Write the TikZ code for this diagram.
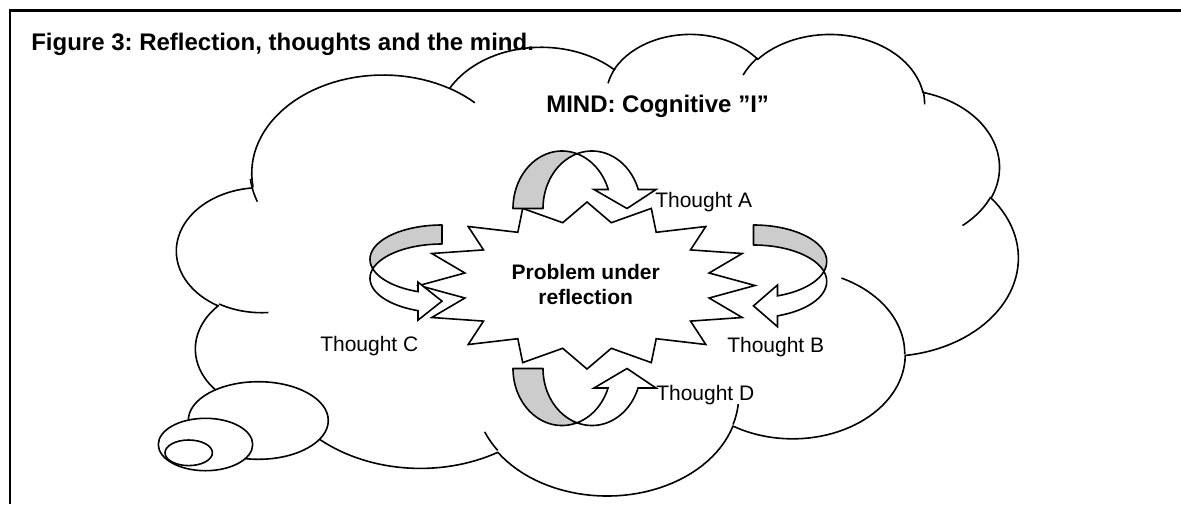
\documentclass[tikz,border=0pt]{standalone}
\usepackage{fontspec}
\setmainfont{Liberation Sans}
\frenchspacing
\definecolor{bandgray}{RGB}{204,204,204}
\begin{document}
\begin{tikzpicture}[x=0.75pt,y=-0.75pt,samples=40,
  outline/.style={draw=black,line width=1.2pt,line join=round},
  cloudfill/.style={outline,fill=white},
  tail/.style={draw=black,line width=1.2pt},
  backband/.style={draw=black,fill=bandgray,line width=1.2pt,line join=round},
  frontband/.style={draw=black,fill=white,line width=1.2pt,line join=miter},
  burst/.style={draw=black,fill=white,line width=1.2pt,line join=miter},
  frame/.style={draw=black,line width=1.9pt},
  lbl/.style={inner sep=0pt,font=\fontsize{15.75}{18.75}\selectfont},
  boldlbl/.style={inner sep=0pt,align=center,font=\bfseries\fontsize{15.75}{18.75}\selectfont},
  headlbl/.style={inner sep=0pt,font=\bfseries\fontsize{18}{21}\selectfont}]
\useasboundingbox (0,0) rectangle (1181,504);
\fill[white] (0,0) rectangle (1181,504);
% frame
\coordinate (fBL) at (10,504);
\coordinate (fTL) at (10,10.5);
\coordinate (fTR) at (1181,10.5);
\draw[frame] (fBL) -- (fTL) -- (fTR);
% cloud outline
\path[cloudfill] plot[domain=-187.746:-59.64] ({383.2+131.47*cos(\x)},{173.2+98.17*sin(\x)})
 -- plot[domain=-152.033:-45.447] ({541.3+103.82*cos(\x)},{124.9+77.63*sin(\x)})
 -- plot[domain=-153.49:-37.317] ({690.2+84.98*cos(\x)},{97.9+63.5*sin(\x)})
 -- plot[domain=-139.72:-10.211] ({829.9+94.56*cos(\x)},{104.9+70.45*sin(\x)})
 -- plot[domain=-74.768:23.212] ({895.7+103.82*cos(\x)},{167.4+77.69*sin(\x)})
 -- plot[domain=-37.515:81.862] ({886.5+131.9*cos(\x)},{258+98.49*sin(\x)})
 -- plot[domain=0.4596:121.98] ({792.6+112.62*cos(\x)},{354.8+84.04*sin(\x)})
 -- plot[domain=16.844:146.216] ({607.1+131.45*cos(\x)},{397.6+98.44*sin(\x)})
 -- plot[domain=58.986:150.18] ({420.4+150.29*cos(\x)},{355.8+112.62*sin(\x)})
 -- plot[domain=83.306:223.09] ({280.2+84.88*cos(\x)},{349+63.22*sin(\x)})
 -- plot[domain=120.35:264.112] ({260.9+84.59*cos(\x)},{251.1+63.5*sin(\x)})
 -- cycle;
% inner hooks of the cloud
\draw[tail] plot[domain=85.543:120.35] ({261.8+84.59*cos(\x)},{249.2+63.5*sin(\x)});
\draw[tail] plot[domain=68.236:83.306] ({280.4+84.88*cos(\x)},{347+63.22*sin(\x)});
\draw[tail] plot[domain=146.216:158.474] ({607+131.45*cos(\x)},{395.7+98.44*sin(\x)});
\draw[tail] plot[domain=4.738:16.844] ({607.2+131.45*cos(\x)},{396+98.44*sin(\x)});
\draw[tail] plot[domain=-64.027:0.4596] ({792.1+112.62*cos(\x)},{353.6+84.04*sin(\x)});
\draw[tail] plot[domain=23.212:49.642] ({895.3+103.82*cos(\x)},{166.3+77.69*sin(\x)});
\draw[tail] plot[domain=-10.211:0.821] ({830+94.56*cos(\x)},{103.3+70.45*sin(\x)});
\draw[tail] plot[domain=-156.29:-139.72] ({829.7+94.56*cos(\x)},{103.4+70.45*sin(\x)});
\draw[tail] plot[domain=-167.727:-153.49] ({691.1+84.98*cos(\x)},{96.8+63.5*sin(\x)});
\draw[tail] plot[domain=-59.64:-45.737] ({383.1+131.47*cos(\x)},{173.1+98.17*sin(\x)});
\draw[tail] plot[domain=160.29:173.86] ({381.1+131.47*cos(\x)},{168.5+98.17*sin(\x)});
% thought bubbles
\draw[cloudfill] (258.3,420.5) ellipse [x radius=52.5pt, y radius=29.1pt];
\draw[cloudfill] (205.5,444.5) ellipse [x radius=35.4pt, y radius=19.65pt];
\draw[cloudfill] (188.7,452.8) ellipse [x radius=17.78pt, y radius=9.6pt];
% starburst
\draw[burst] (587,202) -- (611.3,222.7) -- (651.3,208.4) -- (656.2,232.3) -- (705.8,226.5)
 -- (690.5,249.9) -- (742.2,253.5) -- (709.1,273) -- (755,285.5) -- (709.1,298)
 -- (742.2,317.5) -- (690.5,321.1) -- (705.8,344.5) -- (656.2,338.7) -- (651.3,362.6)
 -- (611.3,348.3) -- (587,369) -- (562.7,348.3) -- (522.7,362.6) -- (517.8,338.7)
 -- (468.2,344.5) -- (483.5,321.1) -- (431.8,317.5) -- (464.9,298) -- (419,285.5)
 -- (464.9,273) -- (431.8,253.5) -- (483.5,249.9) -- (468.2,226.5) -- (517.8,232.3)
 -- (522.7,208.4) -- (562.7,222.7) -- cycle;
% arrow A (top)
\path[backband] plot[domain=-180:-72.17] ({562+49*cos(\x)},{208.5+57.5*sin(\x)})
  -- plot[domain=107.83:180] ({592+49*cos(\x)},{208.5-57.5*sin(\x)}) -- cycle;
\path[frontband] plot[domain=-107.83:-19.29] ({592+49*cos(\x)},{208.5+57.5*sin(\x)})
  -- (656,189.5) -- (627,208.5) -- (594,189.5)
  -- plot[domain=19.29:72.17] ({562+49*cos(\x)},{208.5-57.5*sin(\x)}) -- cycle;
% arrow D (bottom)
\path[backband] plot[domain=-180:-72.17] ({562+49*cos(\x)},{368.5-57*sin(\x)})
  -- plot[domain=107.83:180] ({592+49*cos(\x)},{368.5+57*sin(\x)}) -- cycle;
\path[frontband] plot[domain=-107.83:-20] ({592+49*cos(\x)},{368.5-57*sin(\x)})
  -- (656,388) -- (627,368.5) -- (594,388)
  -- plot[domain=20:72.17] ({562+49*cos(\x)},{368.5+57*sin(\x)}) -- cycle;
% arrow C (left)
\path[backband] plot[domain=90:196.08] ({442+72*cos(\x)},{259.3-34.3*sin(\x)})
  -- plot[domain=-163.92:-90] ({442+72*cos(\x)},{278.3+34.3*sin(\x)}) -- cycle;
\path[frontband] plot[domain=-196.08:-109.47] ({442+72*cos(\x)},{278.3-34.3*sin(\x)})
  -- (418,320.14) -- (442,301.14) -- (418,282.14)
  -- plot[domain=109.47:163.92] ({442+72*cos(\x)},{259.3+34.3*sin(\x)}) -- cycle;
% arrow B (right)
\path[backband] plot[domain=-90:15.93] ({753.5+73.2*cos(\x)},{261.43+36.43*sin(\x)})
  -- plot[domain=15.93:90] ({753.5+73.2*cos(\x)},{281.43-36.43*sin(\x)}) -- cycle;
\path[frontband] plot[domain=-15.93:70.86] ({753.5+73.2*cos(\x)},{281.43+36.43*sin(\x)})
  -- (777.5,326.7) -- (753.5,305.85) -- (777.5,285)
  -- plot[domain=-70.86:-15.93] ({753.5+73.2*cos(\x)},{261.43-36.43*sin(\x)}) -- cycle;
% texts
\node[headlbl,anchor=base west] (title) at (31,50) {Figure 3: Reflection, thoughts and the mind.};
\node[headlbl,anchor=base west] (mind) at (546,112) {MIND: Cognitive ”I”};
\node[boldlbl] (problem) at (585.7,284.3) {Problem under\\reflection};
\node[lbl,anchor=base west] (ta) at (655,207) {Thought A};
\node[lbl,anchor=base west] (tb) at (727,352) {Thought B};
\node[lbl,anchor=base west] (tc) at (320,351) {Thought C};
\node[lbl,anchor=base west] (td) at (656,400) {Thought D};
\end{tikzpicture}
\end{document}
